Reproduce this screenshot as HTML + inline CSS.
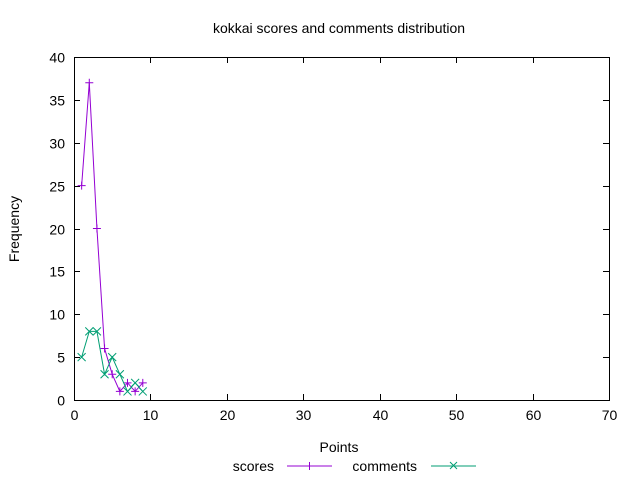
<!DOCTYPE html>
<html><head><meta charset="utf-8"><style>
html,body{margin:0;padding:0;background:#fff;}
svg{display:block;font-family:"Liberation Sans",sans-serif;font-size:14px;}
</style></head><body>
<svg id="chart" width="640" height="480">
<text x="339" y="33" text-anchor="middle">kokkai scores and comments distribution</text>
<text x="339" y="452" text-anchor="middle">Points</text>
<text transform="translate(19,229) rotate(-90)" text-anchor="middle">Frequency</text>
<g id="axes"></g>
<g id="series"></g>
<g>
<text x="274" y="471" text-anchor="end">scores</text>
<line x1="287" y1="466" x2="332" y2="466" stroke="#9400d3"/>
<path d="M305.5 466h8M309.5 462v8" stroke="#9400d3"/>
<text x="417" y="471" text-anchor="end">comments</text>
<line x1="431" y1="466" x2="476" y2="466" stroke="#009e73"/>
<path d="M450 462l7 7M450 469l7 -7" stroke="#009e73"/>
</g>
</svg>
<script>
const xCats = [1,2,3,4,5,6,7,8,9];
const scores = [25,37,20,6,3,1,2,1,2];
const comments = [5,8,8,3,5,3,1,2,1];
const xTicks = [0,10,20,30,40,50,60,70];
const yTicks = [0,5,10,15,20,25,30,35,40];

const L=74,R=609,T=57,B=400;
const sx=v=>L+(v-0)/(70-0)*(R-L);
const sy=v=>B-(v-0)/(40-0)*(B-T);
const NS='http://www.w3.org/2000/svg';
function mk(tag,attrs,parent){const e=document.createElementNS(NS,tag);for(const k in attrs)e.setAttribute(k,attrs[k]);parent.appendChild(e);return e;}
const ax=document.getElementById('axes');
let frame=mk('rect',{x:L+0.5,y:T+0.5,width:R-L,height:B-T,fill:'none',stroke:'#000'},ax);


xTicks.forEach(v=>{
  const x=Math.round(sx(v))+0.5;
  let t=mk('path',{d:`M${x} ${B}v-6M${x} ${T}v6`,stroke:'#000'},ax);
  
  
  let l=mk('text',{x:x,y:B+20,'text-anchor':'middle'},ax);l.textContent=v;
  
  
});
yTicks.forEach(v=>{
  const y=Math.round(sy(v))+0.5;
  let t=mk('path',{d:`M${L} ${y}h6M${R} ${y}h-6`,stroke:'#000'},ax);
  
  
  let l=mk('text',{x:L-9,y:y+5,'text-anchor':'end'},ax);l.textContent=v;
  
  
});
const sg=document.getElementById('series');
function drawSeries(vals,color,name,marker){
  const pts=xCats.map((c,i)=>[sx(c),sy(vals[i])]);
  let pl=mk('polyline',{points:pts.map(p=>p.join(',')).join(' '),fill:'none',stroke:color},sg);
  
  
  pts.forEach(([x,y])=>{
    const d=marker==='plus'?`M${x-4} ${y}h8M${x} ${y-4}v8`:`M${x-4} ${y-4}l8 8M${x-4} ${y+4}l8 -8`;
    let m=mk('path',{d:d,stroke:color},sg);
    
    
  });
}
drawSeries(scores,'#9400d3','scores','plus');
drawSeries(comments,'#009e73','comments','x');
</script>
</body></html>
